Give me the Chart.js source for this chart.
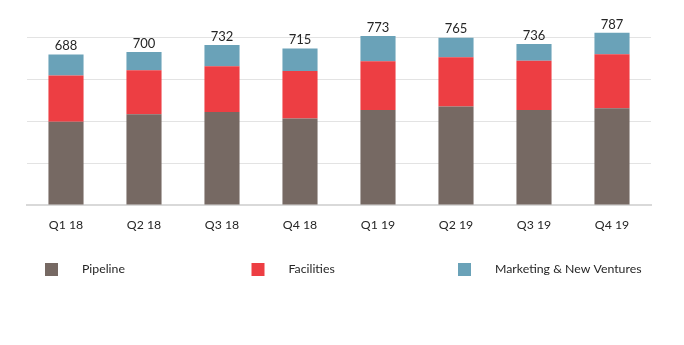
<!DOCTYPE html>
<html>
<head>
<meta charset="utf-8">
<script src="https://cdn.jsdelivr.net/npm/chart.js@4"></script>
<style>
    body { margin: 0; background: #ffffff; }
    #box { width: 684px; height: 345px; }
</style>
</head>
<body>
<div id="box"><canvas id="grafico"></canvas></div>
<script>
const trimestres = ['Q1 18', 'Q2 18', 'Q3 18', 'Q4 18', 'Q1 19', 'Q2 19', 'Q3 19', 'Q4 19'];
const totais = [688, 700, 732, 715, 773, 765, 736, 787];
const pipeline = [381, 415, 425, 396, 434, 450, 434, 442];
const facilities = [211, 201, 209, 217, 223, 225, 226, 247];
const marketing = [96, 84, 98, 102, 116, 90, 76, 98];
const nomes = ['Pipeline', 'Facilities', 'Marketing & New Ventures'];
const cores = ['#766963', '#ed3e43', '#6aa2b8'];

const fonte = 'Lato, "Open Sans", sans-serif';

// totais em cima das barras
const rotulosTotais = {
    id: 'rotulosTotais',
    afterDatasetsDraw(chart) {
        const ctx = chart.ctx;
        const meta = chart.getDatasetMeta(2);
        ctx.save();
        ctx.font = '13px ' + fonte;
        ctx.fillStyle = '#262626';
        ctx.textAlign = 'center';
        ctx.textBaseline = 'bottom';
        meta.data.forEach((bar, i) => {
            ctx.fillText(totais[i], bar.x, bar.y - 2);
        });
        ctx.restore();
    }
};

// legenda em tres colunas
const legendaColunas = {
    id: 'legendaColunas',
    afterDraw(chart) {
        const ctx = chart.ctx;
        ctx.save();
        ctx.font = '12.3px ' + fonte;
        ctx.textBaseline = 'middle';
        ctx.textAlign = 'left';
        for (let i = 0; i < nomes.length; i++) {
            const x = 45 + i * 206.5;
            const y = 269.5;
            ctx.fillStyle = cores[i];
            ctx.fillRect(x, y - 6.5, 13, 13);
            ctx.fillStyle = '#262626';
            ctx.fillText(nomes[i], x + 37, y);
        }
        ctx.restore();
    }
};

const dados = {
    labels: trimestres,
    datasets: [
        { label: nomes[0], data: pipeline, backgroundColor: cores[0] },
        { label: nomes[1], data: facilities, backgroundColor: cores[1] },
        { label: nomes[2], data: marketing, backgroundColor: cores[2] },
    ].map(d => Object.assign(d, { barPercentage: 0.45, categoryPercentage: 1, clip: false }))
};

new Chart(document.getElementById('grafico'), {
    type: 'bar',
    data: dados,
    options: {
        responsive: true,
        maintainAspectRatio: false,
        animation: false,
        layout: { padding: { top: 37, left: 27, right: 33, bottom: 0 } },
        plugins: {
            legend: { display: false },
            tooltip: { enabled: false }
        },
        scales: {
            x: {
                stacked: true,
                grid: { display: false },
                border: { color: '#d9d9d9', width: 2 },
                ticks: { color: '#262626', font: { family: fonte, size: 12.3 }, padding: 5 },
                afterFit: (scale) => { scale.height = 140; }
            },
            y: {
                stacked: true,
                min: 0,
                max: 768,
                ticks: { display: false, stepSize: 192 },
                grid: { color: '#e3e3e3', drawTicks: false },
                border: { display: false },
                afterFit: (scale) => { scale.width = 0; }
            }
        }
    },
    plugins: [rotulosTotais, legendaColunas]
});
</script>
</body>
</html>
